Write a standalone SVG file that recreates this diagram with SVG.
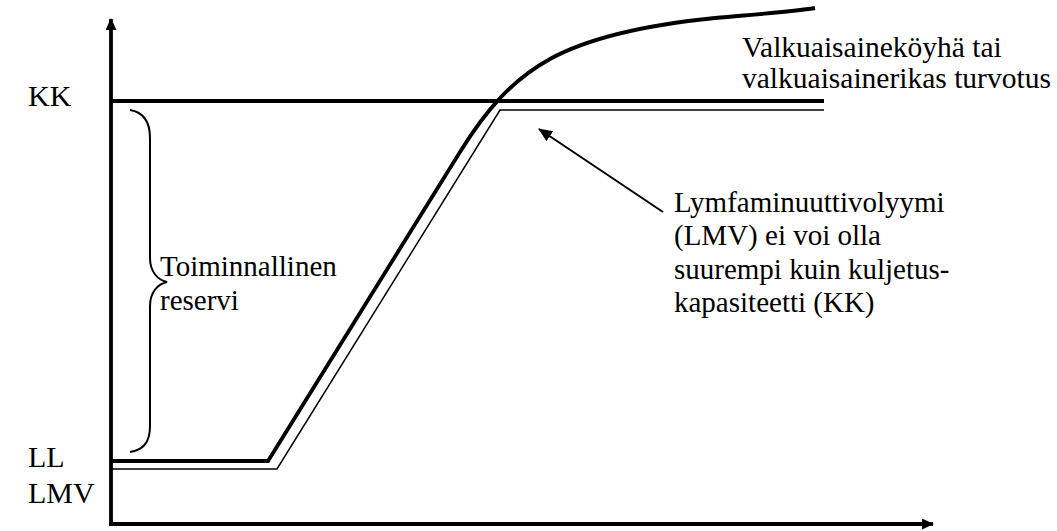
<svg xmlns="http://www.w3.org/2000/svg" width="1057" height="531" viewBox="0 0 1057 531">
<style>
.t{font-family:"Liberation Serif","Times New Roman",serif;font-size:29px;fill:#000}
.big{font-size:30px}
.thick{stroke:#000;stroke-width:3.8;fill:none}
.thin{stroke:#000;stroke-width:1.5;fill:none}
.brace{stroke:#000;stroke-width:2;fill:none}
</style>
<defs>
<marker id="ah" markerWidth="12" markerHeight="11" refX="11" refY="5.5" orient="auto" markerUnits="userSpaceOnUse" viewBox="0 0 12 11">
<path d="M0,0 L12,5.5 L0,11 Z" fill="#000"/>
</marker>
<marker id="ah2" markerWidth="14" markerHeight="12" refX="13" refY="6" orient="auto" markerUnits="userSpaceOnUse" viewBox="0 0 14 12">
<path d="M0,0 L14,6 L0,12 Z" fill="#000"/>
</marker>
</defs>
<rect width="1057" height="531" fill="#fff"/>
<g id="axes">
<path class="thick" d="M111,526 L111,19" marker-end="url(#ah)"/>
<path class="thick" d="M109,524 L933,524" marker-end="url(#ah)"/>
</g>
<g id="kk-line"><path class="thick" d="M111,101 L824,101"/></g>
<g id="lmv-line"><path class="thin" d="M111,469 L277,469 L500,110 L824,110"/></g>
<g id="curve"><path class="thick" d="M111,461 L268,461 L460,152 C486,110 512,80 550,59 C592,36 655,24 715,18 C760,14 790,12 815,8"/></g>
<g id="brace"><path class="brace" d="M130,110 C142,112 150,120 150,138 L150,258 C150,272 158,280 167,282 C158,284 150,292 150,306 L150,426 C150,444 142,450 130,452"/></g>
<g id="labels">
<text class="t big" x="28" y="106">KK</text>
<text class="t big" x="28" y="467">LL</text>
<text class="t big" x="28" y="503">LMV</text>
<text class="t" x="160" y="276">Toiminnallinen</text>
<text class="t" x="160" y="310">reservi</text>
<text class="t" x="742" y="57" style="font-size:29.5px">Valkuaisaineköyhä tai</text>
<text class="t" x="742" y="88" style="font-size:29.5px">valkuaisainerikas turvotus</text>
<text class="t" x="674" y="212">Lymfaminuuttivolyymi</text>
<text class="t" x="674" y="245">(LMV) ei voi olla</text>
<text class="t" x="674" y="279">suurempi kuin kuljetus-</text>
<text class="t" x="674" y="312">kapasiteetti (KK)</text>
</g>
<g id="connectors"><path stroke="#000" stroke-width="2" fill="none" d="M663,212 L539,129" marker-end="url(#ah2)"/></g>
</svg>
